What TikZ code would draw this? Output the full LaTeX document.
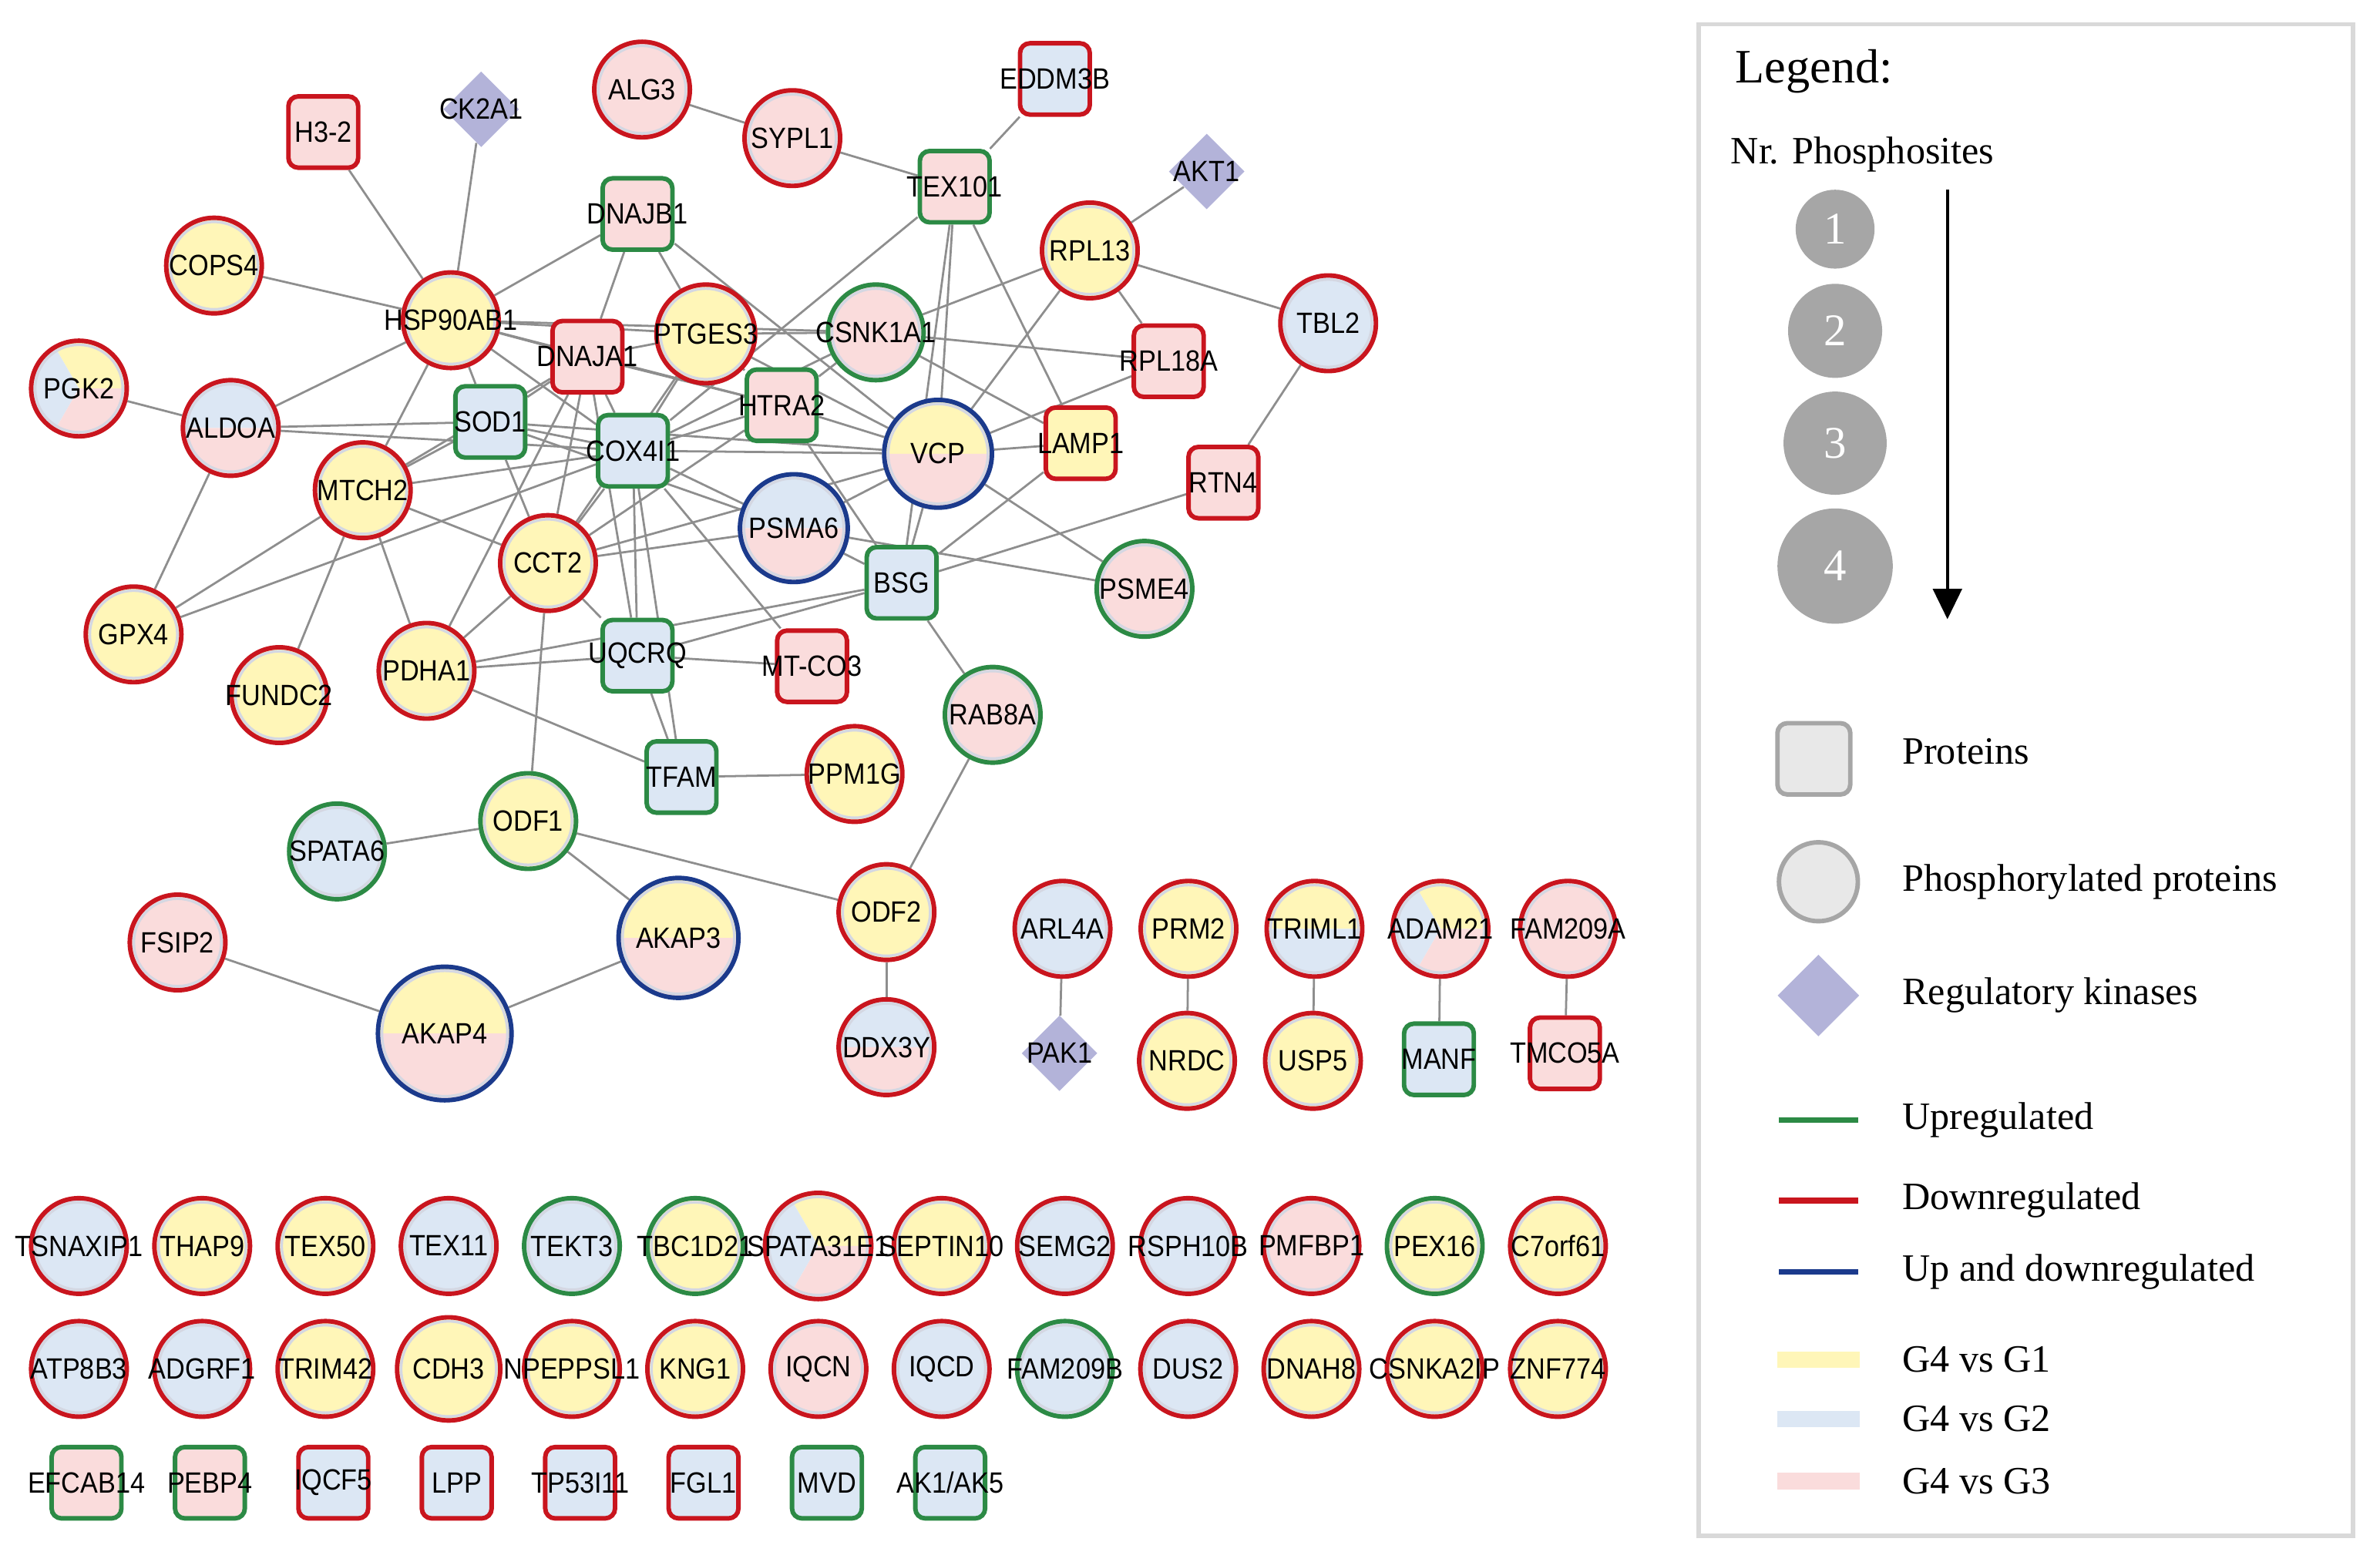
\documentclass[tikz,border=0pt]{standalone}
\usepackage{fontspec}
\setmainfont{Liberation Serif}
\newfontfamily\lblfont[FakeStretch=0.9]{Liberation Sans}
\usetikzlibrary{shapes.geometric, arrows.meta}

\definecolor{upgreen}{HTML}{2C8A45}
\definecolor{downred}{HTML}{C9151E}
\definecolor{bothblue}{HTML}{1B3A8C}
\definecolor{ylw}{HTML}{FFF6B8}
\definecolor{blu}{HTML}{DCE7F4}
\definecolor{pnk}{HTML}{FADCDC}
\definecolor{kin}{HTML}{B3B3D9}
\definecolor{edgegray}{HTML}{8E8E8E}
\definecolor{ringgray}{HTML}{D4D7E2}
\definecolor{boxgray}{HTML}{D9D9D9}
\definecolor{sitegray}{HTML}{A6A6A6}
\definecolor{legfill}{HTML}{E8E8E8}

\pgfdeclarelayer{bg}
\pgfsetlayers{bg,main}

\tikzset{
	lbl/.style={font=\lblfont\fontsize{11}{11}\selectfont, inner sep=0pt, text=black},
	phos/.style={circle, line width=1.7pt, inner sep=0pt},
	prot/.style={rectangle, rounded corners=0.13cm, line width=1.7pt,
		minimum width=0.92cm, minimum height=0.94cm, inner sep=0pt},
	kinase/.style={diamond, fill=kin, minimum width=1cm, minimum height=1cm, inner sep=0pt},
	edge/.style={draw=edgegray, line width=0.8pt},
	legtext/.style={anchor=west, font=\fontsize{14.5}{15}\selectfont, inner sep=0pt}
}

% pie of equal sectors, counter-clockwise from east
\newcommand{\pie}[3]{%
	\edef\piecols{#3}%
	\foreach \col [count=\ks] in \piecols {\global\let\nsec\ks}%
	\foreach \col [count=\ks from 0] in \piecols {%
		\pgfmathsetmacro{\angA}{360/\nsec*\ks}%
		\pgfmathsetmacro{\angB}{360/\nsec*(\ks+1)}%
		\fill[\col] (#1) -- ++(\angA:#2) arc[start angle=\angA, end angle=\angB, radius=#2] -- cycle;%
	}%
}
\newcommand{\phosnode}[6]{%
	\pie{#2}{#3cm}{#5}%
	\draw[ringgray, line width=1pt] (#2) circle[radius=#3cm-1.5pt];%
	\node[phos, draw=#4, minimum size=2*#3cm, label={[lbl]center:#6}] (#1) at (#2) {};%
}
\newcommand{\protnode}[5]{%
	\node[prot, draw=#3, fill=#4, label={[lbl]center:#5}] (#1) at (#2) {};%
}
\newcommand{\kinnode}[3]{%
	\node[kinase, label={[lbl]center:#3}] (#1) at (#2) {};%
}

\begin{document}
\begin{tikzpicture}[x=0.02cm, y=0.02cm]
	\useasboundingbox (0,0) rectangle (1568,-1029);
	
	\kinnode{ck2a1}{317,-72}{CK2A1}
	\kinnode{akt1}{795,-113}{AKT1}
	\kinnode{pak1}{698,-694}{PAK1}
	
	\protnode{h32}{213,-87}{downred}{pnk}{H3-2}
	\protnode{eddm3b}{695,-52}{downred}{blu}{EDDM3B}
	\protnode{tex101}{629,-123}{upgreen}{pnk}{TEX101}
	\protnode{dnajb1}{420,-141}{upgreen}{pnk}{DNAJB1}
	\protnode{dnaja1}{387,-235}{downred}{pnk}{DNAJA1}
	\protnode{rpl18a}{770,-238}{downred}{pnk}{RPL18A}
	\protnode{sod1}{323,-278}{upgreen}{blu}{SOD1}
	\protnode{htra2}{515,-267}{upgreen}{pnk}{HTRA2}
	\protnode{cox4i1}{417,-297}{upgreen}{blu}{COX4I1}
	\protnode{lamp1}{712,-292}{downred}{ylw}{LAMP1}
	\protnode{rtn4}{806,-318}{downred}{pnk}{RTN4}
	\protnode{bsg}{594,-384}{upgreen}{blu}{BSG}
	\protnode{uqcrq}{420,-432}{upgreen}{blu}{UQCRQ}
	\protnode{mtco3}{535,-439}{downred}{pnk}{MT-CO3}
	\protnode{tfam}{449,-512}{upgreen}{blu}{TFAM}
	\protnode{manf}{948,-698}{upgreen}{blu}{MANF}
	\protnode{tmco5a}{1031,-694}{downred}{pnk}{TMCO5A}
	
	\phosnode{alg3}{423,-59}{0.63}{downred}{pnk}{ALG3}
	\phosnode{sypl1}{522,-91}{0.63}{downred}{pnk}{SYPL1}
	\phosnode{cops4}{141,-175}{0.63}{downred}{ylw}{COPS4}
	\phosnode{rpl13}{718,-165}{0.63}{downred}{ylw}{RPL13}
	\phosnode{tbl2}{875,-213}{0.63}{downred}{blu}{TBL2}
	\phosnode{hsp90}{297,-211}{0.63}{downred}{ylw}{HSP90AB1}
	\phosnode{ptges3}{465,-220}{0.65}{downred}{ylw}{PTGES3}
	\phosnode{csnk1a1}{577,-219}{0.63}{upgreen}{pnk}{CSNK1A1}
	\phosnode{pgk2}{52,-256}{0.63}{downred}{ylw,blu,pnk}{PGK2}
	\phosnode{aldoa}{152,-282}{0.63}{downred}{blu,pnk}{ALDOA}
	\phosnode{vcp}{618,-299}{0.71}{bothblue}{ylw,pnk}{VCP}
	\phosnode{mtch2}{239,-323}{0.63}{downred}{ylw}{MTCH2}
	\phosnode{psma6}{523,-348}{0.71}{bothblue}{blu,pnk}{PSMA6}
	\phosnode{cct2}{361,-371}{0.63}{downred}{ylw}{CCT2}
	\phosnode{psme4}{754,-388}{0.63}{upgreen}{pnk}{PSME4}
	\phosnode{gpx4}{88,-418}{0.63}{downred}{ylw}{GPX4}
	\phosnode{fundc2}{184,-458}{0.63}{downred}{ylw}{FUNDC2}
	\phosnode{pdha1}{281,-442}{0.63}{downred}{ylw}{PDHA1}
	\phosnode{rab8a}{654,-471}{0.63}{upgreen}{pnk}{RAB8A}
	\phosnode{ppm1g}{563,-510}{0.63}{downred}{ylw}{PPM1G}
	\phosnode{odf1}{348,-541}{0.63}{upgreen}{ylw}{ODF1}
	\phosnode{spata6}{222,-561}{0.63}{upgreen}{blu}{SPATA6}
	\phosnode{odf2}{584,-601}{0.63}{downred}{ylw}{ODF2}
	\phosnode{fsip2}{117,-621}{0.63}{downred}{pnk}{FSIP2}
	\phosnode{akap3}{447,-618}{0.79}{bothblue}{ylw,pnk}{AKAP3}
	\phosnode{akap4}{293,-681}{0.88}{bothblue}{ylw,pnk}{AKAP4}
	\phosnode{ddx3y}{584,-690}{0.63}{downred}{blu,pnk}{DDX3Y}
	\phosnode{arl4a}{700,-612}{0.63}{downred}{blu}{ARL4A}
	\phosnode{prm2}{783,-612}{0.63}{downred}{ylw}{PRM2}
	\phosnode{nrdc}{782,-699}{0.63}{downred}{ylw}{NRDC}
	\phosnode{triml1}{866,-612}{0.63}{downred}{ylw,blu}{TRIML1}
	\phosnode{usp5}{865,-699}{0.63}{downred}{ylw}{USP5}
	\phosnode{adam21}{949,-612}{0.63}{downred}{ylw,blu,pnk}{ADAM21}
	\phosnode{fam209a}{1033,-612}{0.63}{downred}{pnk}{FAM209A}
	
	\begin{pgfonlayer}{bg}
		\foreach \a/\b in {h32/hsp90, ck2a1/hsp90, cops4/hsp90, alg3/sypl1, sypl1/tex101,
			eddm3b/tex101, akt1/rpl13, hsp90/dnajb1, hsp90/dnaja1, hsp90/ptges3,
			hsp90/csnk1a1, hsp90/sod1, hsp90/mtch2, hsp90/aldoa, hsp90/htra2, hsp90/cox4i1,
			dnajb1/dnaja1, dnajb1/ptges3, dnajb1/vcp, tex101/vcp, tex101/bsg, tex101/lamp1,
			tex101/cox4i1, rpl13/csnk1a1, rpl13/tbl2, rpl13/rpl18a, rpl13/vcp, rpl18a/vcp,
			csnk1a1/rpl18a, tbl2/rtn4, rtn4/bsg, lamp1/vcp, lamp1/bsg, csnk1a1/lamp1,
			vcp/psme4, vcp/bsg, vcp/psma6, vcp/htra2, vcp/cox4i1, vcp/ptges3, vcp/cct2, vcp/sod1,
			pgk2/aldoa, aldoa/sod1, aldoa/cox4i1, aldoa/gpx4, sod1/mtch2, sod1/cox4i1,
			sod1/cct2, sod1/dnaja1, sod1/psma6, dnaja1/ptges3, dnaja1/mtch2, dnaja1/cct2,
			dnaja1/pdha1, dnaja1/uqcrq, dnaja1/cox4i1, dnaja1/htra2, ptges3/csnk1a1,
			ptges3/htra2, ptges3/cox4i1, ptges3/cct2, csnk1a1/htra2, csnk1a1/cox4i1,
			htra2/cox4i1, htra2/cct2, htra2/bsg, cox4i1/mtch2, cox4i1/cct2, cox4i1/uqcrq,
			cox4i1/tfam, cox4i1/psma6, cox4i1/mtco3, cox4i1/gpx4, mtch2/gpx4, mtch2/fundc2,
			mtch2/pdha1, mtch2/cct2, cct2/psma6, cct2/uqcrq, cct2/pdha1, cct2/odf1,
			psma6/bsg, psma6/psme4, bsg/rab8a, bsg/uqcrq, bsg/pdha1, uqcrq/pdha1,
			uqcrq/mtco3, uqcrq/tfam, pdha1/tfam, tfam/ppm1g, odf1/spata6, odf1/akap3,
			odf1/odf2, odf2/rab8a, odf2/ddx3y, akap4/fsip2, akap4/akap3, arl4a/pak1,
			prm2/nrdc, triml1/usp5, adam21/manf, fam209a/tmco5a}
		\draw[edge] (\a) -- (\b);
	\end{pgfonlayer}
	
	% proteins without partners
	\foreach \nm/\bd/\fl [count=\i from 0] in {TSNAXIP1/downred/blu, THAP9/downred/ylw,
		TEX50/downred/ylw, TEX11/downred/blu, TEKT3/upgreen/blu, TBC1D21/upgreen/ylw}
	\phosnode{\nm}{{52+81.2*\i},-821}{0.63}{\bd}{\fl}{\nm};
	\phosnode{SPATA31E1}{539,-821}{0.70}{downred}{ylw,blu,pnk}{SPATA31E1}
	\foreach \nm/\bd/\fl [count=\i from 7] in {SEPTIN10/downred/ylw, SEMG2/downred/blu,
		RSPH10B/downred/blu, PMFBP1/downred/pnk, PEX16/upgreen/ylw, C7orf61/downred/ylw}
	\phosnode{\nm}{{52+81.2*\i},-821}{0.63}{\bd}{\fl}{\nm};
	
	\foreach \nm/\bd/\fl/\rr [count=\i from 0] in {ATP8B3/downred/blu/0.63,
		ADGRF1/downred/blu/0.63, TRIM42/downred/ylw/0.63, CDH3/downred/ylw/0.68,
		NPEPPSL1/downred/ylw/0.63, KNG1/downred/ylw/0.63, IQCN/downred/pnk/0.63,
		IQCD/downred/blu/0.63, FAM209B/upgreen/blu/0.63, DUS2/downred/blu/0.63,
		DNAH8/downred/ylw/0.63, CSNKA2IP/downred/ylw/0.63, ZNF774/downred/ylw/0.63}
	\phosnode{\nm}{{52+81.2*\i},-902}{\rr}{\bd}{\fl}{\nm};
	
	\foreach \nm/\bd/\fl [count=\i from 0] in {EFCAB14/upgreen/pnk, PEBP4/upgreen/pnk,
		IQCF5/downred/blu, LPP/downred/blu, TP53I11/downred/blu, FGL1/downred/blu,
		MVD/upgreen/blu}
	\protnode{\nm}{{57+81.3*\i},-977}{\bd}{\fl}{\nm};
	\protnode{ak1ak5}{626,-977}{upgreen}{blu}{AK1/AK5}
	
	% legend
	\draw[boxgray, line width=1.7pt] (1119,-16) rectangle (1550,-1012);
	\node[anchor=west, font=\fontsize{18}{18}\selectfont, inner sep=0pt] (legtitle) at (1143,-47) {Legend:};
	\node[legtext] (nrsites) at (1140,-102) {Nr. Phosphosites};
	\foreach \s/\y/\rad in {1/151/26, 2/218/31, 3/292/34, 4/373/38}
	\node[circle, fill=sitegray, minimum size=\rad*0.04cm, inner sep=0pt, text=white,
		font=\fontsize{17}{17}\selectfont] (site\s) at (1209,-\y) {\s};
	\coordinate (arrtop) at (1283,-125);
	\coordinate (arrbot) at (1283,-408);
	\draw[line width=1.1pt, -{Triangle[width=0.38cm,length=0.4cm]}] (arrtop) -- (arrbot);
	
	\node[prot, draw=sitegray, fill=legfill, minimum width=0.96cm] (legprot) at (1195,-500) {};
	\node[legtext] (legprottext) at (1253,-495) {Proteins};
	\node[phos, draw=sitegray, fill=legfill, minimum size=1.04cm] (legphos) at (1198,-581) {};
	\node[legtext] (legphostext) at (1253,-581) {Phosphorylated proteins};
	\node[kinase, minimum width=1.08cm, minimum height=1.08cm] (legkin) at (1198,-656) {};
	\node[legtext] (legkintext) at (1253,-656) {Regulatory kinases};
	\foreach \clr/\y/\txt in {upgreen/738/Upregulated, downred/791/Downregulated,
		bothblue/838/Up and downregulated}{
		\draw[\clr, line width=2.2pt] (1172,-\y) -- (1224,-\y);
		\node[legtext] at (1253,-\y) {\txt};
	}
	\foreach \clr/\y/\txt in {ylw/896/G4 vs G1, blu/935/G4 vs G2, pnk/976/G4 vs G3}{
		\fill[\clr] (1171,-\y+5.5) rectangle (1225,-\y-5.5);
		\node[legtext] at (1253,-\y) {\txt};
	}
\end{tikzpicture}
\end{document}
